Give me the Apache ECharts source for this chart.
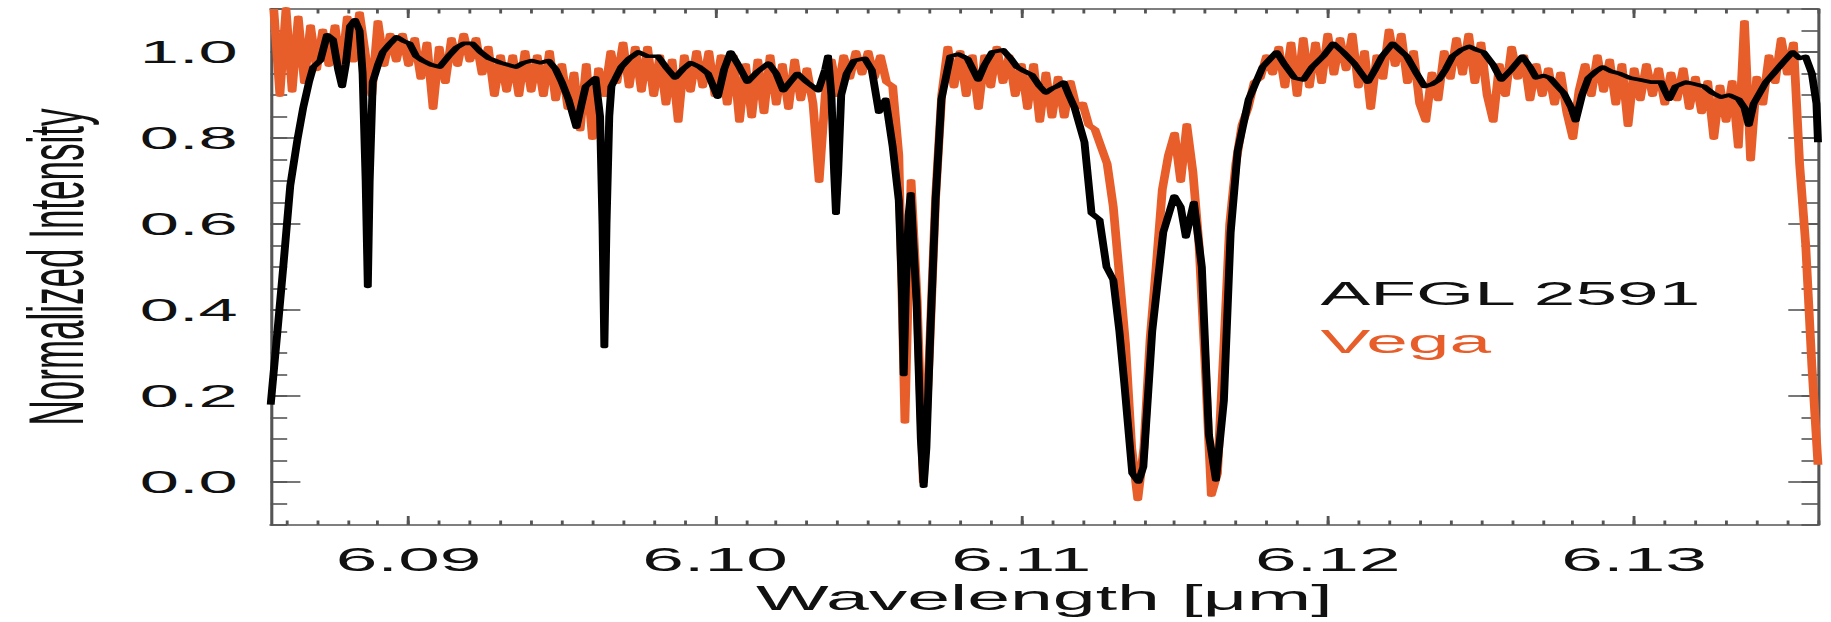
<!DOCTYPE html>
<html>
<head>
<meta charset="utf-8">
<title>AFGL 2591 / Vega</title>
<script src="https://cdn.jsdelivr.net/npm/echarts@6/dist/echarts.min.js"></script>
<style>
  html, body { margin: 0; padding: 0; background: #fff; overflow: hidden; }
  #wrap { width: 1831px; height: 622px; overflow: hidden; }
  /* the original figure is stretched sideways, so the chart is drawn narrow and scaled */
  #chart { width: 832px; height: 622px; transform: scaleX(2.2007); transform-origin: 0 0; }
</style>
</head>
<body>
<div id="wrap"><div id="chart"></div></div>
<script>
var xTicks = [6.09, 6.10, 6.11, 6.12, 6.13];
var xTickLabels = ['6.09', '6.10', '6.11', '6.12', '6.13'];
var yTicks = [0, 0.2, 0.4, 0.6, 0.8, 1.0];
var yTickLabels = ['0.0', '0.2', '0.4', '0.6', '0.8', '1.0'];
var seriesNames = ['AFGL 2591', 'Vega'];

// AFGL 2591 : [wavelength um, normalized intensity]
var afglSpectrum = [
  [6.0855, 0.18], [6.08572, 0.35], [6.08591, 0.50], [6.08614, 0.69], [6.08637, 0.795],
  [6.08656, 0.87], [6.08675, 0.93], [6.08689, 0.965], [6.08712, 0.98], [6.08734, 1.04],
  [6.08753, 1.03], [6.08770, 0.96], [6.08783, 0.92], [6.08795, 0.97], [6.08809, 1.06],
  [6.08825, 1.075], [6.08840, 1.05], [6.08850, 0.95], [6.08860, 0.70], [6.08867, 0.455],
  [6.08873, 0.70], [6.08883, 0.93], [6.08900, 0.97], [6.08916, 1.0], [6.08940, 1.02],
  [6.08961, 1.035], [6.08985, 1.025], [6.09003, 1.02], [6.09025, 0.99], [6.09045, 0.98],
  [6.09075, 0.97], [6.09101, 0.965], [6.09130, 0.99], [6.09156, 1.01], [6.09180, 1.02],
  [6.09208, 1.02], [6.09235, 1.0], [6.09263, 0.985], [6.09300, 0.975], [6.09350, 0.965],
  [6.09375, 0.975], [6.09402, 0.98], [6.09430, 0.975], [6.09457, 0.98], [6.09480, 0.96],
  [6.09500, 0.93], [6.09522, 0.89], [6.09548, 0.825], [6.09565, 0.88], [6.09578, 0.92],
  [6.09610, 0.94], [6.09625, 0.85], [6.09633, 0.60], [6.09639, 0.315], [6.09646, 0.60],
  [6.09655, 0.85], [6.09662, 0.92], [6.09694, 0.965], [6.09720, 0.985], [6.09750, 1.0],
  [6.09780, 0.99], [6.09814, 0.99], [6.09840, 0.965], [6.09870, 0.94], [6.09895, 0.96],
  [6.09921, 0.975], [6.09950, 0.965], [6.09977, 0.95], [6.10009, 0.895], [6.10030, 0.96],
  [6.10051, 1.0], [6.10080, 0.965], [6.10106, 0.93], [6.10140, 0.955], [6.10175, 0.974],
  [6.10200, 0.95], [6.10223, 0.91], [6.10245, 0.93], [6.10269, 0.95], [6.10300, 0.93],
  [6.10337, 0.91], [6.10360, 0.96], [6.10369, 0.99], [6.10380, 0.90], [6.10389, 0.72],
  [6.10395, 0.625], [6.10402, 0.72], [6.10412, 0.90], [6.10430, 0.95], [6.10454, 0.98],
  [6.10489, 0.985], [6.10512, 0.958], [6.10535, 0.86], [6.10557, 0.89], [6.10580, 0.78],
  [6.10600, 0.655], [6.10610, 0.45], [6.10616, 0.25], [6.10623, 0.45], [6.10632, 0.62],
  [6.10639, 0.67], [6.10658, 0.42], [6.10672, 0.10], [6.10681, -0.01], [6.10690, 0.08],
  [6.10703, 0.35], [6.10720, 0.655], [6.10739, 0.89], [6.10768, 0.99], [6.10795, 0.995],
  [6.10824, 0.985], [6.10859, 0.935], [6.10880, 0.97], [6.10905, 1.0], [6.10940, 1.005],
  [6.10965, 0.985], [6.10986, 0.965], [6.11010, 0.955], [6.11034, 0.947], [6.11060, 0.92],
  [6.11080, 0.905], [6.11100, 0.915], [6.11116, 0.92], [6.11138, 0.93], [6.11155, 0.90],
  [6.11174, 0.87], [6.11206, 0.79], [6.11229, 0.625], [6.11255, 0.61], [6.11278, 0.50],
  [6.11300, 0.47], [6.11320, 0.35], [6.11336, 0.23], [6.11362, 0.02], [6.11382, 0.0],
  [6.11398, 0.035], [6.11427, 0.35], [6.11463, 0.58], [6.11499, 0.665], [6.11520, 0.64],
  [6.11537, 0.57], [6.11563, 0.65], [6.11589, 0.50], [6.11612, 0.11], [6.11635, 0.005],
  [6.11661, 0.19], [6.11683, 0.58], [6.11706, 0.77], [6.11742, 0.89], [6.11787, 0.965],
  [6.11833, 1.0], [6.11860, 0.97], [6.11891, 0.94], [6.11920, 0.935], [6.11949, 0.965],
  [6.11985, 0.99], [6.12018, 1.02], [6.12050, 1.0], [6.12086, 0.974], [6.12110, 0.95],
  [6.12131, 0.93], [6.12155, 0.96], [6.12177, 0.99], [6.12212, 1.02], [6.12235, 1.005],
  [6.12258, 0.99], [6.12290, 0.95], [6.12316, 0.92], [6.12340, 0.925], [6.12362, 0.935],
  [6.12385, 0.96], [6.12407, 0.99], [6.12435, 1.005], [6.12462, 1.013], [6.12485, 1.005],
  [6.12508, 1.0], [6.12540, 0.97], [6.12566, 0.935], [6.12600, 0.96], [6.12635, 0.99],
  [6.12660, 0.965], [6.12680, 0.94], [6.12705, 0.945], [6.12725, 0.94], [6.12750, 0.92],
  [6.12770, 0.905], [6.12795, 0.87], [6.12809, 0.84], [6.12830, 0.90], [6.12851, 0.94],
  [6.12875, 0.955], [6.12897, 0.965], [6.12925, 0.955], [6.12952, 0.95], [6.12985, 0.94],
  [6.13020, 0.935], [6.13055, 0.93], [6.13088, 0.93], [6.13100, 0.91], [6.13114, 0.89],
  [6.13135, 0.92], [6.13169, 0.93], [6.13200, 0.925], [6.13228, 0.92], [6.13255, 0.905],
  [6.13283, 0.895], [6.13310, 0.90], [6.13341, 0.89], [6.13360, 0.87], [6.13374, 0.83],
  [6.13390, 0.88], [6.13410, 0.905], [6.13430, 0.93], [6.13455, 0.95], [6.13485, 0.975],
  [6.13517, 1.0], [6.13540, 0.985], [6.13559, 0.99], [6.13580, 0.95], [6.13595, 0.88],
  [6.13600, 0.79]
];

// Vega : sampled every 0.0002 um from 6.0856
var vegaStart = 6.0856;
var vegaStep = 0.0002;
var vegaFlux = [
  1.1, 0.90, 1.1, 0.91, 1.08, 0.93, 1.06, 0.96, 1.05, 0.97,
  1.06, 0.95, 1.08, 0.98, 1.09, 0.99, 0.90, 1.07, 0.97, 1.04,
  0.98, 1.04, 0.97, 1.03, 0.94, 1.02, 0.87, 1.01, 0.93, 1.03,
  0.97, 1.04, 0.98, 1.03, 0.95, 1.01, 0.90, 0.99, 0.91, 0.99,
  0.90, 1.00, 0.91, 0.99, 0.90, 1.00, 0.89, 0.97, 0.87, 0.95,
  0.82, 0.97, 0.80, 0.96, 0.90, 1.00, 0.93, 1.02, 0.92, 1.01,
  0.91, 1.01, 0.90, 0.99, 0.88, 0.98, 0.84, 0.99, 0.91, 1.00,
  0.92, 1.00, 0.90, 0.99, 0.88, 0.99, 0.84, 0.97, 0.85, 0.98,
  0.86, 0.99, 0.88, 0.97, 0.87, 0.98, 0.89, 0.96, 0.88, 0.70,
  0.90, 0.98, 0.90, 0.99, 0.94, 1.00, 0.95, 1.00, 0.94, 0.99,
  0.93, 0.92, 0.76, 0.14, 0.70, 0.42, 0.00, 0.30, 0.66, 0.90,
  1.01, 0.92, 1.00, 0.90, 0.99, 0.87, 0.99, 0.92, 1.01, 0.93,
  0.99, 0.90, 0.97, 0.87, 0.97, 0.84, 0.95, 0.85, 0.94, 0.85,
  0.93, 0.87, 0.88, 0.83, 0.82, 0.78, 0.74, 0.64, 0.48, 0.32,
  0.08, -0.04, 0.08, 0.33, 0.50, 0.68, 0.76, 0.81, 0.70, 0.83,
  0.72, 0.55, 0.27, -0.03, 0.02, 0.30, 0.60, 0.74, 0.83, 0.87,
  0.93, 0.94, 0.99, 0.95, 1.01, 0.92, 1.02, 0.90, 1.03, 0.92,
  1.02, 0.93, 1.04, 0.95, 1.03, 0.96, 1.04, 0.92, 1.00, 0.87,
  0.99, 0.94, 1.05, 0.97, 1.04, 0.93, 1.00, 0.88, 0.84, 0.95,
  0.89, 1.00, 0.94, 1.03, 0.95, 1.04, 0.93, 1.02, 0.90, 0.84,
  0.97, 0.90, 1.01, 0.94, 0.99, 0.89, 0.97, 0.90, 0.96, 0.88,
  0.95, 0.86, 0.80, 0.91, 0.97, 0.90, 0.99, 0.91, 0.98, 0.88,
  0.97, 0.83, 0.96, 0.89, 0.97, 0.90, 0.96, 0.88, 0.95, 0.89,
  0.96, 0.87, 0.94, 0.86, 0.93, 0.80, 0.92, 0.84, 0.93, 0.78,
  1.07, 0.75, 0.94, 0.88, 0.99, 0.93, 1.03, 0.95, 1.02, 0.74,
  0.55, 0.27, 0.04
];

var vegaSpectrum = [];
for (var i = 0; i < vegaFlux.length; i++) {
  vegaSpectrum.push([+(vegaStart + i * vegaStep).toFixed(5), vegaFlux[i]]);
}

// minor ticks: every 0.001 um and every 0.05 in intensity
var xMinor = [];
for (var k = 6086; k <= 6136; k++) xMinor.push(k / 1000);
var yMinor = [];
for (var m = -2; m <= 22; m++) yMinor.push(+(m * 0.05).toFixed(2));

var frameColor = '#555';
var orange = '#e85e2a';
var font = 'Liberation Sans, Helvetica, Arial, sans-serif';

function pickLabel(ticks, labels) {
  return function (v) {
    var best = 0;
    for (var j = 1; j < ticks.length; j++) {
      if (Math.abs(ticks[j] - v) < Math.abs(ticks[best] - v)) best = j;
    }
    return labels[best];
  };
}

function xAx(pos, vals, len, main) {
  return {
    type: 'value', position: pos, min: 6.0855, max: 6.136,
    axisLine: { show: main, onZero: false, lineStyle: { color: frameColor, width: 1.5 } },
    axisTick: { show: true, inside: true, length: len, customValues: vals,
      lineStyle: { color: frameColor, width: 1.3 } },
    axisLabel: { show: false },
    splitLine: { show: false }
  };
}
function yAx(pos, vals, len, main) {
  return {
    type: 'value', position: pos, min: -0.1, max: 1.1,
    axisLine: { show: main, onZero: false, lineStyle: { color: frameColor, width: 1.4 } },
    axisTick: { show: true, inside: true, length: len, customValues: vals,
      lineStyle: { color: frameColor, width: 1.6 } },
    axisLabel: { show: false },
    splitLine: { show: false }
  };
}

var xBottom = xAx('bottom', xTicks, 9, true);
xBottom.axisLabel = {
  show: true, customValues: xTicks, formatter: pickLabel(xTicks, xTickLabels),
  margin: 17, color: '#111', fontSize: 34, fontFamily: font
};
xBottom.name = 'Wavelength [\u03bcm]';
xBottom.nameLocation = 'middle';
xBottom.nameGap = 55;
xBottom.nameTextStyle = { fontSize: 35, color: '#111', fontFamily: font };

var yLeft = yAx('left', yTicks, 13.5, true);
yLeft.axisLabel = {
  show: true, customValues: yTicks, formatter: pickLabel(yTicks, yTickLabels),
  margin: 15, color: '#111', fontSize: 32, fontFamily: font
};
yLeft.name = 'Normalized Intensity';
yLeft.nameLocation = 'middle';
yLeft.nameGap = 80;
yLeft.nameTextStyle = { fontSize: 35, color: '#111', fontFamily: font };

var chart = echarts.init(document.getElementById('chart'), null, { renderer: 'svg' });
chart.setOption({
  backgroundColor: '#fff',
  animation: false,
  grid: { left: 118.1, right: 5.9, top: 9, bottom: 97, containLabel: false },
  legend: {
    orient: 'vertical', left: 590, top: 271, itemGap: 14,
    itemWidth: 0, itemHeight: 0, icon: 'rect', selectedMode: false,
    textStyle: { fontSize: 34, fontFamily: font },
    data: [
      { name: seriesNames[0], textStyle: { color: '#111' } },
      { name: seriesNames[1], textStyle: { color: orange } }
    ]
  },
  xAxis: [xBottom, xAx('bottom', xMinor, 4.5, false), xAx('top', xTicks, 9, true), xAx('top', xMinor, 4.5, false)],
  yAxis: [yLeft, yAx('left', yMinor, 7.5, false), yAx('right', yTicks, 13.5, true), yAx('right', yMinor, 7.5, false)],
  series: [
    {
      name: seriesNames[1], type: 'line', data: vegaSpectrum,
      showSymbol: false, symbol: 'none', clip: true, z: 2,
      lineStyle: { color: orange, width: 4, join: 'round' }, itemStyle: { color: orange }
    },
    {
      name: seriesNames[0], type: 'line', data: afglSpectrum,
      showSymbol: false, symbol: 'none', clip: true, z: 3,
      lineStyle: { color: '#000', width: 3.6, join: 'round' }, itemStyle: { color: '#000' }
    }
  ]
});
</script>
</body>
</html>
